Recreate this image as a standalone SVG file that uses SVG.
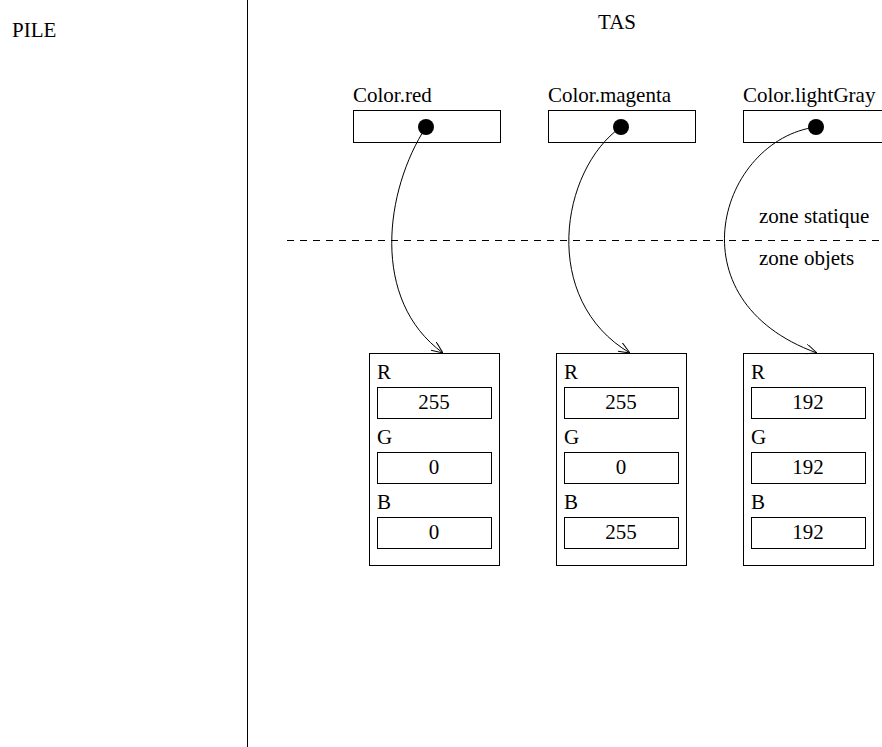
<svg xmlns="http://www.w3.org/2000/svg" width="882" height="747" viewBox="0 0 882 747" font-family="'Liberation Serif', 'Times New Roman', serif" font-size="21">
  <style>
    .box { fill: #fff; stroke: #000; stroke-width: 1; }
    .val { text-anchor: middle; }
    .link { fill: none; stroke: #000; stroke-width: 1; }
  </style>
  <defs>
    <marker id="arrow" viewBox="0 0 12 10" refX="12" refY="5" markerWidth="12" markerHeight="10" markerUnits="userSpaceOnUse" orient="auto">
      <path d="M0,0 L12,5 L0,10" fill="none" stroke="#000" stroke-width="1"/>
    </marker>
  </defs>

  <rect width="882" height="747" fill="#fff"/>

  <!-- stack / heap separation -->
  <line x1="247.5" y1="0" x2="247.5" y2="747" stroke="#000" stroke-width="1"/>
  <text x="12" y="37">PILE</text>
  <text x="598" y="29">TAS</text>

  <!-- static / object zone separation -->
  <line x1="287" y1="240.5" x2="882" y2="240.5" stroke="#000" stroke-width="1" stroke-dasharray="7,6"/>
  <text x="759" y="223">zone statique</text>
  <text x="759" y="265">zone objets</text>

  <!-- static fields -->
  <g id="static-red">
    <text x="353" y="102">Color.red</text>
    <rect class="box" x="353.5" y="110.5" width="147" height="32"/>
    <circle cx="426" cy="127" r="8" fill="#000"/>
  </g>
  <g id="static-magenta">
    <text x="548" y="102">Color.magenta</text>
    <rect class="box" x="548.5" y="110.5" width="147" height="32"/>
    <circle cx="621" cy="127" r="8" fill="#000"/>
  </g>
  <g id="static-lightgray">
    <text x="743" y="102">Color.lightGray</text>
    <rect class="box" x="743.5" y="110.5" width="147" height="32"/>
    <circle cx="816" cy="127" r="8" fill="#000"/>
  </g>

  <!-- Color objects -->
  <g id="obj-red">
    <rect class="box" x="369.5" y="353.5" width="130" height="212"/>
    <text x="377" y="379">R</text>
    <rect class="box" x="377.5" y="387.5" width="114" height="31"/>
    <text class="val" x="434" y="409">255</text>
    <text x="377" y="444">G</text>
    <rect class="box" x="377.5" y="452.5" width="114" height="31"/>
    <text class="val" x="434" y="474">0</text>
    <text x="377" y="509">B</text>
    <rect class="box" x="377.5" y="517.5" width="114" height="31"/>
    <text class="val" x="434" y="539">0</text>
  </g>
  <g id="obj-magenta">
    <rect class="box" x="556.5" y="353.5" width="130" height="212"/>
    <text x="564" y="379">R</text>
    <rect class="box" x="564.5" y="387.5" width="114" height="31"/>
    <text class="val" x="621" y="409">255</text>
    <text x="564" y="444">G</text>
    <rect class="box" x="564.5" y="452.5" width="114" height="31"/>
    <text class="val" x="621" y="474">0</text>
    <text x="564" y="509">B</text>
    <rect class="box" x="564.5" y="517.5" width="114" height="31"/>
    <text class="val" x="621" y="539">255</text>
  </g>
  <g id="obj-lightgray">
    <rect class="box" x="743.5" y="353.5" width="130" height="212"/>
    <text x="751" y="379">R</text>
    <rect class="box" x="751.5" y="387.5" width="114" height="31"/>
    <text class="val" x="808" y="409">192</text>
    <text x="751" y="444">G</text>
    <rect class="box" x="751.5" y="452.5" width="114" height="31"/>
    <text class="val" x="808" y="474">192</text>
    <text x="751" y="509">B</text>
    <rect class="box" x="751.5" y="517.5" width="114" height="31"/>
    <text class="val" x="808" y="539">192</text>
  </g>

  <!-- references from static fields to objects -->
  <g id="connectors">
    <path class="link" d="M426,127 C385,190 370,300 443,353" marker-end="url(#arrow)"/>
    <path class="link" d="M621,127 C560,170 540,300 630,353" marker-end="url(#arrow)"/>
    <path class="link" d="M816,127 C720,140 670,300 817,353" marker-end="url(#arrow)"/>
  </g>
</svg>
